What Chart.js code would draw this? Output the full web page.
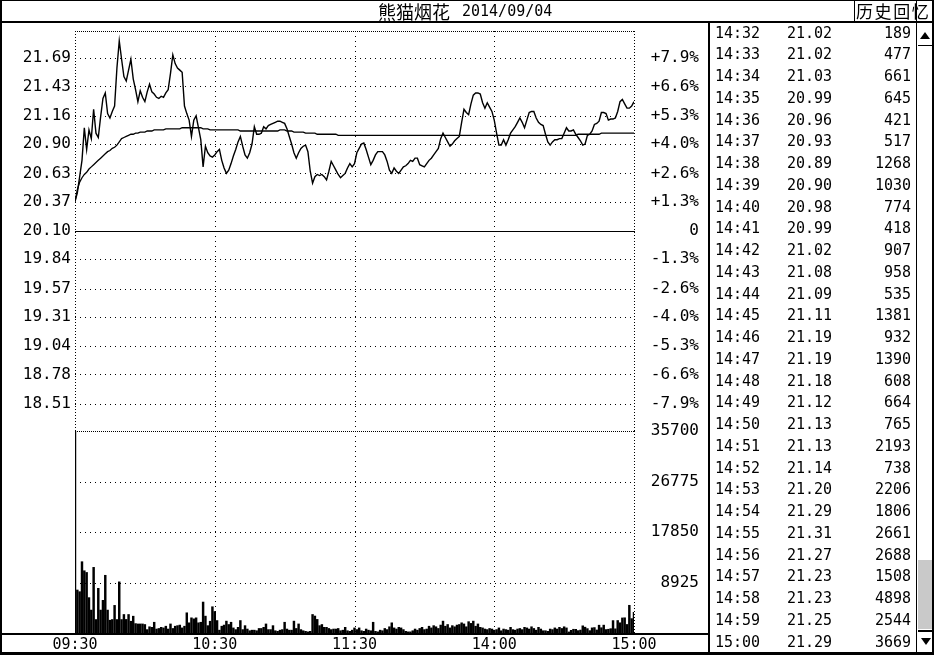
<!DOCTYPE html>
<html><head><meta charset="utf-8">
<script src="https://cdn.jsdelivr.net/npm/chart.js@4"></script>
<style>
html,body{margin:0;padding:0;background:#fff;}
#wrap{position:relative;width:934px;height:655px;overflow:hidden;background:#fff;font-family:'DejaVu Sans Mono',monospace;color:#000;}
.ln{position:absolute;background:#000;}
canvas{position:absolute;left:0;}
#pc{top:15px;}
#vc{top:419px;}
.row{position:absolute;left:709px;width:202px;height:21.75px;line-height:21.75px;font-size:15px;white-space:pre;}
.row span{position:absolute;top:0;}
.t{left:6px;} .p{left:78px;} .v{right:0;}
.tri-up{position:absolute;width:0;height:0;border-left:5px solid transparent;border-right:5px solid transparent;border-bottom:7px solid #000;}
.tri-dn{position:absolute;width:0;height:0;border-left:5px solid transparent;border-right:5px solid transparent;border-top:7px solid #000;}
</style></head>
<body><div id="wrap">
<canvas id="pc" width="707" height="432"></canvas>
<canvas id="vc" width="707" height="236"></canvas>

<div class="ln" style="left:0;top:0;width:934px;height:1px;"></div>
<div class="ln" style="left:0;top:21px;width:934px;height:2px;"></div>
<div class="ln" style="left:0;top:0;width:2px;height:655px;"></div>
<div class="ln" style="left:932px;top:0;width:2px;height:655px;"></div>
<div class="ln" style="left:0;top:652px;width:934px;height:3px;"></div>
<div class="ln" style="left:0;top:633px;width:709px;height:2px;"></div>
<div class="ln" style="left:708px;top:22px;width:2px;height:631px;"></div>
<div class="ln" style="left:916px;top:0;width:1px;height:653px;"></div>
<div class="ln" style="left:854px;top:0;width:1px;height:22px;"></div>

<div style="position:absolute;left:378px;top:0;height:22px;line-height:22px;font-family:'Noto Sans CJK SC';font-size:18px;">熊猫烟花</div>
<div style="position:absolute;left:462px;top:0;height:22px;line-height:22px;font-size:15px;">2014/09/04</div>
<div style="position:absolute;left:856px;top:0;height:21px;line-height:21px;font-family:'Noto Sans CJK SC';font-size:17px;letter-spacing:1.6px;white-space:nowrap;">历史回忆</div>

<div class="tri-up" style="left:920px;top:32px;"></div>
<div class="ln" style="left:918px;top:45px;width:14px;height:1px;"></div>
<div style="position:absolute;left:918px;top:560px;width:14px;height:69px;background:#c9c9c9;"></div>
<div class="ln" style="left:918px;top:630px;width:14px;height:2px;"></div>
<div class="tri-dn" style="left:921px;top:638px;"></div>

<div id="rows"></div>
</div>
<script>
// ---------------- data ----------------
const priceTickLabels = ['18.51','18.78','19.04','19.31','19.57','19.84','20.10','20.37','20.63','20.90','21.16','21.43','21.69'];
const pctTickLabels   = ['-7.9%','-6.6%','-5.3%','-4.0%','-2.6%','-1.3%','0','+1.3%','+2.6%','+4.0%','+5.3%','+6.6%','+7.9%'];
const volTickValues   = [0, 8925, 17850, 26775, 35700];
const volTickLabels   = ['', '8925', '17850', '26775', '35700'];
const timeTickValues  = [0, 60, 120, 180, 240];
const timeTickLabels  = ['09:30', '10:30', '11:30', '14:00', '15:00'];
const prevClose = 20.10;

const price = [
 20.37,20.45,20.60,20.75,21.05,20.85,21.03,20.95,21.22,21.00,
 20.96,21.15,21.32,21.37,21.18,21.14,21.20,21.25,21.60,21.85,
 21.68,21.52,21.48,21.58,21.68,21.50,21.40,21.29,21.39,21.33,
 21.29,21.38,21.45,21.38,21.36,21.33,21.32,21.34,21.33,21.37,
 21.40,21.55,21.72,21.64,21.60,21.58,21.56,21.25,21.18,21.12,
 20.97,21.12,21.16,21.05,20.94,20.69,20.88,20.82,20.79,20.78,
 20.80,20.83,20.85,20.75,20.68,20.63,20.66,20.72,20.79,20.85,
 20.92,20.97,20.88,20.80,20.77,20.82,20.90,21.06,20.99,20.99,
 21.00,21.06,21.04,21.07,21.08,21.09,21.10,21.11,21.11,21.10,
 21.09,21.04,20.97,20.90,20.82,20.77,20.82,20.86,20.88,20.89,
 20.83,20.65,20.54,20.60,20.62,20.61,20.62,20.60,20.57,20.65,
 20.74,20.70,20.66,20.62,20.59,20.61,20.63,20.68,20.72,20.69,
 20.72,
 20.82,20.86,20.90,20.91,20.85,20.78,20.71,20.75,20.80,20.83,
 20.83,20.83,20.80,20.74,20.66,20.63,20.68,20.65,20.63,20.66,
 20.69,20.70,20.72,20.75,20.74,20.77,20.77,20.71,20.70,20.69,
 20.72,20.75,20.77,20.80,20.83,20.86,20.95,21.00,20.96,20.92,
 20.88,20.90,20.93,20.95,20.97,21.10,21.22,21.19,21.17,21.27,
 21.35,21.37,21.37,21.36,21.28,21.23,21.28,21.24,21.20,21.12,
 21.00,20.89,20.89,20.94,20.89,20.94,21.00,21.03,21.06,21.10,
 21.14,21.10,21.05,21.12,21.19,21.20,21.20,21.14,21.10,21.08,
 21.07,20.99,20.92,20.89,20.92,20.94,20.94,20.95,20.95,21.00,
 21.05,
 21.02,21.02,21.03,20.99,20.96,20.93,20.89,20.90,20.98,20.99,
 21.02,21.08,21.09,21.11,21.19,21.19,21.18,21.12,21.13,21.13,
 21.14,21.20,21.29,21.31,21.27,21.23,21.23,21.25,21.29
];

const avgPrice = [
 20.37,20.48,20.55,20.59,20.62,20.64,20.67,20.69,20.71,20.73,
 20.75,20.77,20.79,20.81,20.83,20.84,20.86,20.87,20.89,20.92,
 20.95,20.96,20.97,20.98,20.99,20.99,21.00,21.00,21.01,21.01,
 21.01,21.02,21.02,21.02,21.03,21.03,21.03,21.03,21.03,21.04,
 21.04,21.04,21.04,21.04,21.04,21.04,21.05,21.05,21.05,21.05,
 21.05,21.05,21.05,21.05,21.05,21.04,21.04,21.04,21.03,21.03,
 21.03,21.03,21.03,21.03,21.03,21.03,21.03,21.03,21.03,21.03,
 21.03,21.02,21.02,21.02,21.02,21.02,21.02,21.02,21.02,21.02,
 21.02,21.02,21.02,21.02,21.02,21.02,21.02,21.02,21.03,21.03,
 21.03,21.02,21.02,21.02,21.01,21.01,21.01,21.01,21.01,21.00,
 21.00,21.00,21.00,21.00,20.99,20.99,20.99,20.99,20.99,20.99,
 20.99,20.99,20.99,20.98,20.98,20.98,20.98,20.98,20.98,20.98,
 20.98,
 20.98,20.98,20.98,20.98,20.98,20.98,20.98,20.98,20.98,20.98,
 20.98,20.98,20.98,20.98,20.98,20.98,20.98,20.98,20.98,20.98,
 20.98,20.98,20.98,20.98,20.98,20.98,20.98,20.98,20.98,20.98,
 20.98,20.98,20.98,20.98,20.98,20.98,20.98,20.98,20.98,20.98,
 20.98,20.98,20.98,20.98,20.98,20.98,20.98,20.98,20.98,20.98,
 20.98,20.98,20.98,20.98,20.98,20.98,20.98,20.98,20.98,20.98,
 20.98,20.98,20.98,20.98,20.98,20.98,20.98,20.98,20.98,20.98,
 20.98,20.98,20.98,20.98,20.98,20.98,20.98,20.98,20.98,20.98,
 20.98,20.98,20.98,20.98,20.98,20.98,20.98,20.98,20.98,20.98,
 20.98,
 20.98,20.98,20.98,20.98,20.99,20.99,20.99,20.99,20.99,20.99,
 20.99,20.99,20.99,20.99,21.00,21.00,21.00,21.00,21.00,21.00,
 21.00,21.00,21.00,21.00,21.00,21.00,21.00,21.00,21.00
];

const volume = [
 35700,7600,7300,12600,11000,10700,6250,4050,11600,2380,
 7900,4050,5770,10200,4050,2260,2380,4880,2380,9040,
 2380,3270,2400,3270,2080,2970,1660,1600,1600,1600,
 1500,600,1100,1000,1900,700,800,1000,900,1200,
 700,1600,800,1200,1300,1400,900,1200,3570,1800,
 2680,2500,2680,1800,1900,5470,2980,1300,2080,4640,
 3800,2200,500,1200,1400,2100,1500,1900,900,600,
 1000,2200,600,1300,700,400,500,500,400,800,
 800,1000,1600,600,600,1300,400,300,500,600,
 1900,700,500,500,2100,800,1600,600,400,300,
 200,300,3270,3000,2400,1300,1500,1000,1000,800,
 600,700,700,800,400,500,1000,400,300,500,
 900,
 600,900,400,300,700,500,400,1900,300,200,
 500,400,800,600,1100,1800,900,700,1000,900,
 600,300,200,200,400,700,500,800,1000,600,
 700,1200,900,1300,1100,800,1400,2100,1200,1500,
 900,1300,1100,1400,1500,1800,1600,1100,2000,1700,
 2100,1200,1600,1000,900,700,600,800,700,500,
 600,900,400,700,600,500,1000,600,500,700,
 800,600,1000,900,700,1100,800,500,1000,700,
 400,400,300,700,600,900,700,1000,800,1100,
 900,
 189,477,661,645,421,517,1268,1030,774,418,
 907,958,535,1381,932,1390,608,664,765,2193,
 738,2206,1806,2661,2688,1508,4898,2544,3669
];

const TABLE_ROWS = 29;
// --------------------------------------

const FONT = 'DejaVu Sans Mono';
const priceTickValues = priceTickLabels.map(parseFloat);
const PRICE_HALF = 1.84;
const PRICE_MIN = prevClose - PRICE_HALF, PRICE_MAX = prevClose + PRICE_HALF;

function minuteLabel(i) {
  let t;
  if (i <= 120) t = 9 * 60 + 30 + i; else t = 13 * 60 + (i - 120);
  const h = Math.floor(t / 60), m = t % 60;
  return String(h).padStart(2, '0') + ':' + String(m).padStart(2, '0');
}

const dotGrid = {
  id: 'dotGrid',
  beforeDatasetsDraw(chart, args, o) {
    const ctx = chart.ctx, a = chart.chartArea;
    const xs = chart.scales.x, ys = chart.scales[o.yAxis];
    ctx.save();
    ctx.strokeStyle = '#000';
    ctx.lineWidth = 1;
    ctx.lineCap = 'butt';
    const h = (v, dash) => {
      const y = Math.round(ys.getPixelForValue(v)) + 0.5;
      ctx.setLineDash(dash); ctx.beginPath(); ctx.moveTo(a.left, y); ctx.lineTo(a.right + 1, y); ctx.stroke();
    };
    const vl = (v, dash) => {
      const x = Math.round(xs.getPixelForValue(v)) + 0.5;
      ctx.setLineDash(dash); ctx.beginPath(); ctx.moveTo(x, a.top); ctx.lineTo(x, a.bottom); ctx.stroke();
    };
    (o.hDots || []).forEach(v => h(v, [1, 4]));
    (o.hDense || []).forEach(v => h(v, [1, 1]));
    (o.vDots || []).forEach(v => vl(v, [1, 4]));
    (o.vDense || []).forEach(v => vl(v, [1, 2]));
    (o.hSolid || []).forEach(v => h(v, []));
    ctx.restore();
  }
};

const tickFont = { family: FONT, size: 16 };
const timeFont = { family: FONT, size: 15 };

// Price chart
new Chart(document.getElementById('pc'), {
  type: 'line',
  data: {
    datasets: [
      { data: price.map((p, i) => ({ x: i, y: p })), borderColor: '#000', borderWidth: 1.4, pointRadius: 0, tension: 0, fill: false, yAxisID: 'y' },
      { data: avgPrice.map((p, i) => ({ x: i, y: p })), borderColor: '#000', borderWidth: 1.3, pointRadius: 0, tension: 0, fill: false, yAxisID: 'y' }
    ]
  },
  options: {
    responsive: false, animation: false, events: [],
    layout: { padding: { top: 16, bottom: 16, left: 0, right: 8 } },
    plugins: {
      legend: { display: false }, tooltip: { enabled: false },
      dotGrid: {
        yAxis: 'y',
        hDots: priceTickValues.filter(v => v !== prevClose),
        hSolid: [prevClose],
        hDense: [PRICE_MAX],
        vDots: timeTickValues.slice(1, -1),
        vDense: [timeTickValues[0], timeTickValues[timeTickValues.length - 1]]
      }
    },
    scales: {
      x: { type: 'linear', min: 0, max: 240, display: false },
      y: {
        type: 'linear', position: 'left', min: PRICE_MIN, max: PRICE_MAX,
        afterBuildTicks: s => { s.ticks = priceTickValues.map(v => ({ value: v })); },
        afterFit: s => { s.width = 75; },
        grid: { display: false, drawTicks: false }, border: { display: false },
        ticks: { callback: (v, i) => priceTickLabels[i], font: tickFont, color: '#000', padding: 4, autoSkip: false }
      },
      yPct: {
        type: 'linear', position: 'right', min: PRICE_MIN, max: PRICE_MAX,
        afterBuildTicks: s => { s.ticks = priceTickValues.map(v => ({ value: v })); },
        afterFit: s => { s.width = 65; },
        grid: { display: false, drawTicks: false }, border: { display: false },
        ticks: { callback: (v, i) => pctTickLabels[i], font: tickFont, color: '#000', padding: 0, crossAlign: 'far', autoSkip: false }
      }
    }
  },
  plugins: [dotGrid]
});

// Volume chart
new Chart(document.getElementById('vc'), {
  type: 'bar',
  data: {
    datasets: [
      { data: volume.map((v, i) => ({ x: i, y: v })), backgroundColor: '#000', borderWidth: 0, barThickness: 1.8, yAxisID: 'y', xAxisID: 'x' }
    ]
  },
  options: {
    responsive: false, animation: false, events: [],
    layout: { padding: { top: 12, bottom: 0, left: 0, right: 8 } },
    plugins: {
      legend: { display: false }, tooltip: { enabled: false },
      dotGrid: {
        yAxis: 'y',
        hDots: volTickValues.slice(1, -1),
        hDense: [volTickValues[volTickValues.length - 1]],
        vDots: timeTickValues.slice(1, -1),
        vDense: [timeTickValues[0], timeTickValues[timeTickValues.length - 1]]
      }
    },
    scales: {
      x: {
        type: 'linear', min: 0, max: 240, offset: false,
        afterBuildTicks: s => { s.ticks = timeTickValues.map(v => ({ value: v })); },
        afterFit: s => { s.height = 22; },
        grid: { display: false, drawTicks: false }, border: { display: false },
        ticks: { callback: (v, i) => timeTickLabels[i], font: timeFont, color: '#000', padding: 3, maxRotation: 0, autoSkip: false }
      },
      yL: {
        type: 'linear', position: 'left', min: 0, max: 35700,
        afterFit: s => { s.width = 75; },
        grid: { display: false, drawTicks: false }, border: { display: false },
        ticks: { display: false }
      },
      y: {
        type: 'linear', position: 'right', min: 0, max: 35700,
        afterBuildTicks: s => { s.ticks = volTickValues.map(v => ({ value: v })); },
        afterFit: s => { s.width = 65; },
        grid: { display: false, drawTicks: false }, border: { display: false },
        ticks: { callback: (v, i) => volTickLabels[i], font: tickFont, color: '#000', padding: 0, crossAlign: 'far', autoSkip: false }
      }
    }
  },
  plugins: [dotGrid]
});

// Right-hand minute table (last rows of the same series)
const rowsEl = document.getElementById('rows');
const start = price.length - TABLE_ROWS;
for (let k = 0; k < TABLE_ROWS; k++) {
  const i = start + k;
  const r = document.createElement('div');
  r.className = 'row';
  r.style.top = (22.6 + k * 21.75) + 'px';
  r.innerHTML = '<span class="t">' + minuteLabel(i) + '</span><span class="p">' + price[i].toFixed(2) +
                '</span><span class="v">' + volume[i] + '</span>';
  rowsEl.appendChild(r);
}
</script>
</body></html>
